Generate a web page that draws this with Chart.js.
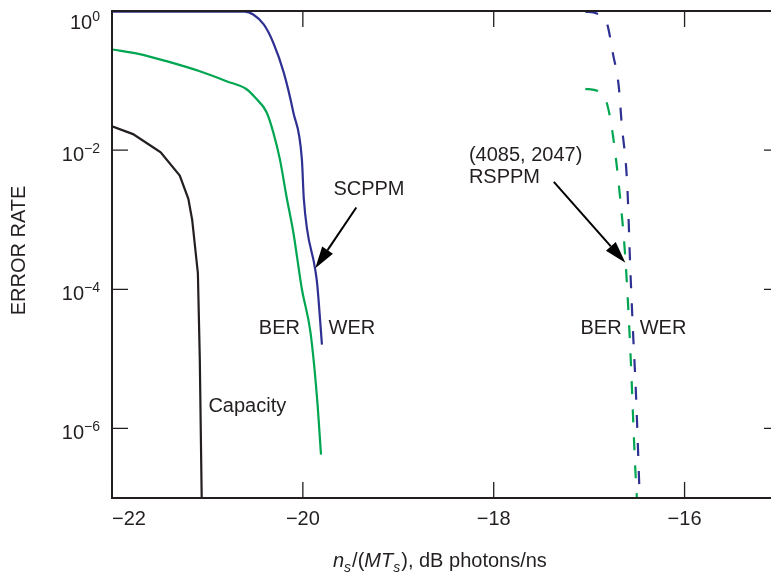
<!DOCTYPE html>
<html>
<head>
<meta charset="utf-8">
<script src="https://cdn.jsdelivr.net/npm/chart.js@4.4.0/dist/chart.umd.min.js"></script>
<style>
  html, body { margin: 0; padding: 0; background: #fff; overflow: hidden; }
  /* el marco derecho queda fuera de la ventana, como en la figura */
  #wrap { width: 790px; height: 573px; }
</style>
</head>
<body>
<div id="wrap"><canvas id="chart"></canvas></div>
<script>
// Curvas (x en dB fotones/ns, y = tasa de error)
const capX = [-22.0, -21.78, -21.57, -21.49, -21.29, -21.20, -21.16, -21.10, -21.08, -21.06];
const capY = [2.2e-2, 1.7e-2, 1.1e-2, 9.3e-3, 4.3e-3, 2.0e-3, 1.0e-3, 1.7e-4, 1.0e-5, 1.0e-7];

const scWerX = [-22.0, -20.61, -20.52, -20.41, -20.31, -20.20, -20.10, -20.01, -19.99, -19.87, -19.85, -19.80];
const scWerY = [0.98, 0.98, 0.89, 0.64, 0.35, 0.13, 3.5e-2, 7.3e-3, 2.0e-3, 1.9e-4, 1.2e-4, 1.6e-5];

const scBerX = [-22.0, -21.71, -21.43, -21.08, -20.80, -20.59, -20.50, -20.38, -20.31, -20.24, -20.17, -20.10, -20.01, -19.92, -19.85, -19.81];
const scBerY = [0.28, 0.24, 0.19, 0.136, 0.098, 0.075, 0.057, 0.035, 0.018, 7.3e-3, 2.1e-3, 6.6e-4, 1.0e-4, 2.4e-5, 2.6e-6, 4.2e-7];

const rsWerX = [-17.04, -16.92, -16.81, -16.75, -16.69, -16.66, -16.60, -16.57, -16.54, -16.51, -16.47];
const rsWerY = [0.98, 0.92, 0.64, 0.24, 0.083, 0.025, 3.0e-3, 2.2e-4, 2.4e-5, 3.3e-6, 1.0e-7];

const rsBerX = [-17.04, -16.90, -16.81, -16.75, -16.68, -16.62, -16.57, -16.52, -16.50];
const rsBerY = [0.076, 0.070, 0.045, 0.016, 2.4e-3, 2.7e-4, 1.5e-5, 3.3e-7, 1.0e-7];

// Marcas de los ejes
const xTicks = [-22, -20, -18, -16];
const yTickExp = [0, -2, -4, -6];

const FONT = '"Liberation Sans", Arial, Helvetica, sans-serif';
const INK = '#231f20';
const BLUE = '#2e3192';
const GREEN = '#00a651';

function pts(xs, ys) {
    return xs.map((x, i) => ({ x: x, y: ys[i] }));
}

// Textos y flechas (en coordenadas de datos)
const notes = [
    { text: 'SCPPM', x: -19.68, y: 2.7e-3, align: 'left' },
    { text: 'BER', x: -20.03, y: 2.7e-5, align: 'right' },
    { text: 'WER', x: -19.73, y: 2.7e-5, align: 'left' },
    { text: 'Capacity', x: -20.99, y: 2.1e-6, align: 'left' },
    { text: '(4085, 2047)', x: -18.26, y: 8.5e-3, align: 'left' },
    { text: 'RSPPM', x: -18.26, y: 4.0e-3, align: 'left' },
    { text: 'BER', x: -16.66, y: 2.7e-5, align: 'right' },
    { text: 'WER', x: -16.47, y: 2.7e-5, align: 'left' }
];
const arrows = [
    { x1: -19.44, y1: 1.5e-3, x2: -19.87, y2: 2.0e-4 },
    { x1: -17.37, y1: 3.5e-3, x2: -16.62, y2: 2.4e-4 }
];

function drawArrow(ctx, x1, y1, x2, y2) {
    const ang = Math.atan2(y2 - y1, x2 - x1);
    const len = 22, half = 6.5;
    const bx = x2 - len * Math.cos(ang), by = y2 - len * Math.sin(ang);
    ctx.beginPath();
    ctx.moveTo(x1, y1);
    ctx.lineTo(bx, by);
    ctx.lineWidth = 2;
    ctx.strokeStyle = '#000';
    ctx.stroke();
    ctx.beginPath();
    ctx.moveTo(x2, y2);
    ctx.lineTo(bx + half * Math.sin(ang), by - half * Math.cos(ang));
    ctx.lineTo(bx - half * Math.sin(ang), by + half * Math.cos(ang));
    ctx.closePath();
    ctx.fillStyle = '#000';
    ctx.fill();
}

const framePlugin = {
    id: 'frame',
    afterDraw(chart) {
        const ctx = chart.ctx;
        const a = chart.chartArea;
        const xs = chart.scales.x, ys = chart.scales.y;
        ctx.save();

        // Marco
        ctx.strokeStyle = INK;
        ctx.lineWidth = 2;
        ctx.strokeRect(a.left, a.top, a.right - a.left, a.bottom - a.top);

        // Marcas hacia dentro
        ctx.lineWidth = 1.3;
        ctx.beginPath();
        xTicks.forEach(v => {
            const px = xs.getPixelForValue(v);
            ctx.moveTo(px, a.bottom); ctx.lineTo(px, a.bottom - 16);
            ctx.moveTo(px, a.top); ctx.lineTo(px, a.top + 16);
        });
        yTickExp.forEach(e => {
            const py = ys.getPixelForValue(Math.pow(10, e));
            ctx.moveTo(a.left, py); ctx.lineTo(a.left + 16, py);
            ctx.moveTo(a.right, py); ctx.lineTo(a.right - 16, py);
        });
        ctx.stroke();

        ctx.fillStyle = INK;

        // Etiquetas del eje x
        ctx.font = '20px ' + FONT;
        ctx.textBaseline = 'alphabetic';
        xTicks.forEach((v, i) => {
            const px = xs.getPixelForValue(v);
            ctx.textAlign = i === 0 ? 'left' : 'center';
            ctx.fillText('\u2212' + Math.abs(v), i === 0 ? a.left : px, a.bottom + 27);
        });

        // Etiquetas del eje y: 10 con exponente
        yTickExp.forEach((e, i) => {
            const py = ys.getPixelForValue(Math.pow(10, e)) + (i === 0 ? 7 : 0);
            const sup = e === 0 ? '0' : '\u2212' + Math.abs(e);
            const right = a.left - 12;
            ctx.textAlign = 'right';
            ctx.font = '14px ' + FONT;
            ctx.fillText(sup, right, py + 2.5);
            const w = ctx.measureText(sup).width;
            ctx.font = '20px ' + FONT;
            ctx.fillText('10', right - w, py + 11);
        });

        // Título del eje y
        ctx.save();
        ctx.translate(19, (a.top + a.bottom) / 2 - 4);
        ctx.rotate(-Math.PI / 2);
        ctx.textAlign = 'center';
        ctx.textBaseline = 'middle';
        ctx.font = '20px ' + FONT;
        ctx.fillText('ERROR RATE', 0, 0);
        ctx.restore();

        // Título del eje x con cursivas y subíndices
        const parts = [
            { t: 'n', it: true }, { t: 's', it: true, sub: true },
            { t: '/(' }, { t: 'MT', it: true }, { t: 's', it: true, sub: true },
            { t: '), dB photons/ns' }
        ];
        let tx = 333;
        const base = a.bottom + 68.5;
        ctx.textAlign = 'left';
        ctx.textBaseline = 'alphabetic';
        parts.forEach(p => {
            ctx.font = (p.it ? 'italic ' : '') + (p.sub ? '14px ' : '20px ') + FONT;
            ctx.fillText(p.t, tx, base + (p.sub ? 5 : 0));
            tx += ctx.measureText(p.t).width + (p.sub ? 1 : 0);
        });

        // Anotaciones
        ctx.font = '20px ' + FONT;
        ctx.textBaseline = 'middle';
        notes.forEach(n => {
            ctx.textAlign = n.align;
            ctx.fillText(n.text, xs.getPixelForValue(n.x), ys.getPixelForValue(n.y));
        });
        arrows.forEach(r => {
            drawArrow(ctx, xs.getPixelForValue(r.x1), ys.getPixelForValue(r.y1),
                xs.getPixelForValue(r.x2), ys.getPixelForValue(r.y2));
        });

        ctx.restore();
    }
};

const lineBase = { pointRadius: 0, borderWidth: 2.2, fill: false };
const smooth = { cubicInterpolationMode: 'monotone' };

new Chart(document.getElementById('chart'), {
    type: 'line',
    data: {
        datasets: [
            Object.assign({ label: 'Capacity', data: pts(capX, capY), borderColor: INK, tension: 0 }, lineBase),
            Object.assign({ label: 'SCPPM WER', data: pts(scWerX, scWerY), borderColor: BLUE }, lineBase, smooth),
            Object.assign({ label: 'SCPPM BER', data: pts(scBerX, scBerY), borderColor: GREEN }, lineBase, smooth),
            Object.assign({ label: 'RSPPM WER', data: pts(rsWerX, rsWerY), borderColor: BLUE, borderDash: [13, 15] }, lineBase, smooth),
            Object.assign({ label: 'RSPPM BER', data: pts(rsBerX, rsBerY), borderColor: GREEN, borderDash: [13, 15] }, lineBase, smooth)
        ]
    },
    options: {
        responsive: true,
        maintainAspectRatio: false,
        animation: false,
        layout: { padding: { left: 112, top: 11, right: 10, bottom: 75 } },
        plugins: {
            legend: { display: false },
            tooltip: { enabled: false }
        },
        scales: {
            x: { type: 'linear', min: -22, max: -15, display: false },
            y: { type: 'logarithmic', min: 1e-7, max: 1, display: false }
        }
    },
    plugins: [framePlugin]
});
</script>
</body>
</html>
